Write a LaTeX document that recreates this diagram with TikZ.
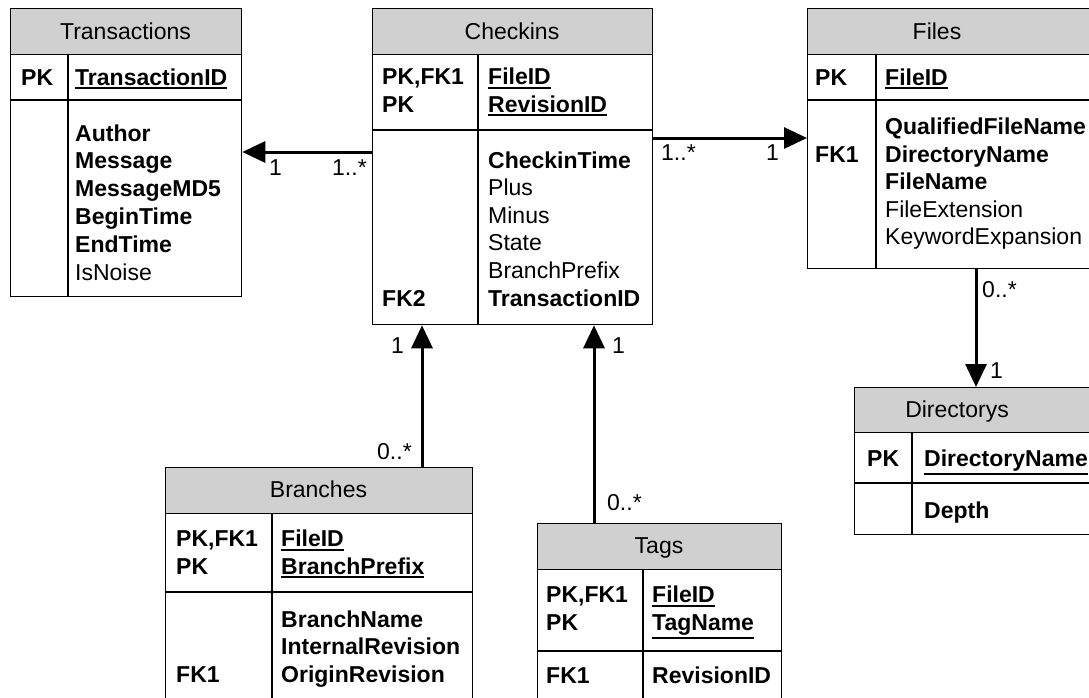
\documentclass[tikz,border=0pt]{standalone}
\usepackage{fontspec}
\setmainfont{Liberation Sans}
\usetikzlibrary{arrows.meta}
\definecolor{hdrgray}{RGB}{208,208,208}
\newcommand\ulx[1]{\setbox0=\hbox{#1}\rlap{\vrule width\wd0 height\dimexpr-\dp0-2pt\relax depth\dimexpr\dp0+3.8pt\relax}\box0}
\begin{document}
\begin{tikzpicture}[x=1pt,y=-1pt,
  font=\fontsize{23}{27.6}\selectfont,
  tbl/.style={draw, line width=1.3pt, fill=white, inner sep=0, anchor=north west},
  hdr/.style={draw, line width=1.3pt, fill=hdrgray, inner sep=0, anchor=north west, minimum height=46},
  txt/.style={anchor=base west, inner sep=0},
  ttl/.style={anchor=base, inner sep=0},
  sep/.style={line width=1.3pt},
  conn/.style={line width=3pt, -{Triangle[length=23pt,width=21pt]}},
  card/.style={anchor=base west, inner sep=0}]
\useasboundingbox (0,0) rectangle (1089,697);
\clip (0,0) rectangle (1089,697);
\fill[white] (0,0) rectangle (1089,697);

% ---------- Transactions ----------
\node[tbl, minimum width=231, minimum height=288] (trn) at (10,8) {};
\node[hdr, minimum width=231] (trn-h) at (10,8) {};
\node[ttl] (trn-t) at (125.5,39) {Transactions};
\draw[sep] (10,100) -- (241,100);
\draw[sep] (68,54) -- (68,296);
\node[txt] (trn-k1) at (21,85) {\textbf{PK}};
\node[txt] (trn-f1) at (75,85) {\ulx{\textbf{TransactionID}}};
\foreach \t [count=\i] in {\textbf{Author},\textbf{Message},\textbf{MessageMD5},\textbf{BeginTime},\textbf{EndTime},IsNoise}
  \node[txt] (trn-b\i) at (75,{141+27.8*(\i-1)}) {\t};

% ---------- Checkins ----------
\node[tbl, minimum width=280, minimum height=316] (chk) at (372,8) {};
\node[hdr, minimum width=280] (chk-h) at (372,8) {};
\node[ttl] (chk-t) at (512,39) {Checkins};
\draw[sep] (372,130) -- (652,130);
\draw[sep] (478,54) -- (478,324);
\node[txt] (chk-k1) at (382,84.5) {\textbf{PK,FK1}};
\node[txt] (chk-k2) at (382,112) {\textbf{PK}};
\node[txt] (chk-k3) at (382,306) {\textbf{FK2}};
\node[txt] (chk-f1) at (488,84.5) {\ulx{\textbf{FileID}}};
\node[txt] (chk-f2) at (488,112) {\ulx{\textbf{RevisionID}}};
\foreach \t [count=\i] in {\textbf{CheckinTime},Plus,Minus,State,BranchPrefix,\textbf{TransactionID}}
  \node[txt] (chk-b\i) at (488,{168+27.6*(\i-1)}) {\t};

% ---------- Files ----------
\node[tbl, minimum width=300, minimum height=260] (fil) at (807,8) {};
\node[hdr, minimum width=300] (fil-h) at (807,8) {};
\node[ttl] (fil-t) at (937,39) {Files};
\draw[sep] (807,100) -- (1107,100);
\draw[sep] (876,54) -- (876,268);
\node[txt] (fil-k1) at (815,85) {\textbf{PK}};
\node[txt] (fil-k2) at (815,162) {\textbf{FK1}};
\node[txt] (fil-f1) at (885,85) {\ulx{\textbf{FileID}}};
\foreach \t [count=\i] in {\textbf{QualifiedFileName},\textbf{DirectoryName},\textbf{FileName},FileExtension,KeywordExpansion}
  \node[txt] (fil-b\i) at (885,{134.5+27.5*(\i-1)}) {\t};

% ---------- Directorys ----------
\node[tbl, minimum width=260, minimum height=147] (dir) at (854,387) {};
\node[hdr, minimum width=260, minimum height=45] (dir-h) at (854,387) {};
\node[ttl] (dir-t) at (957,417) {Directorys};
\draw[sep] (854,483) -- (1114,483);
\draw[sep] (912,432) -- (912,534);
\node[txt] (dir-k1) at (867,466) {\textbf{PK}};
\node[txt] (dir-f1) at (924,466) {\ulx{\textbf{DirectoryName}}};
\node[txt] (dir-b1) at (924,518) {\textbf{Depth}};

% ---------- Branches ----------
\node[tbl, minimum width=307, minimum height=260] (brn) at (165,467) {};
\node[hdr, minimum width=307] (brn-h) at (165,467) {};
\node[ttl] (brn-t) at (318.5,497) {Branches};
\draw[sep] (165,592) -- (472,592);
\draw[sep] (272,513) -- (272,727);
\node[txt] (brn-k1) at (176,546.5) {\textbf{PK,FK1}};
\node[txt] (brn-k2) at (176,574) {\textbf{PK}};
\node[txt] (brn-k3) at (176,682) {\textbf{FK1}};
\node[txt] (brn-f1) at (281,546.5) {\ulx{\textbf{FileID}}};
\node[txt] (brn-f2) at (281,574) {\ulx{\textbf{BranchPrefix}}};
\foreach \t [count=\i] in {\textbf{BranchName},\textbf{InternalRevision},\textbf{OriginRevision}}
  \node[txt] (brn-b\i) at (281,{627+27.6*(\i-1)}) {\t};

% ---------- Tags ----------
\node[tbl, minimum width=244, minimum height=200] (tag) at (537,523) {};
\node[hdr, minimum width=244] (tag-h) at (537,523) {};
\node[ttl] (tag-t) at (659,553) {Tags};
\draw[sep] (537,651) -- (781,651);
\draw[sep] (643,569) -- (643,723);
\node[txt] (tag-k1) at (546,602.5) {\textbf{PK,FK1}};
\node[txt] (tag-k2) at (546,630) {\textbf{PK}};
\node[txt] (tag-k3) at (546,683) {\textbf{FK1}};
\node[txt] (tag-f1) at (652,602.5) {\ulx{\textbf{FileID}}};
\node[txt] (tag-f2) at (652,630) {\ulx{\textbf{TagName}}};
\node[txt] (tag-b1) at (652,683) {\textbf{RevisionID}};

% ---------- Connectors ----------
\draw[conn] (chk.west |- 0,152) -- (trn.east |- 0,152);
\draw[conn] (chk.east |- 0,138) -- (fil.west |- 0,138);
\draw[conn] (fil.south -| 976,0) -- (dir.north -| 976,0);
\draw[conn] (brn.north -| 422,0) -- (chk.south -| 422,0);
\draw[conn] (tag.north -| 594,0) -- (chk.south -| 594,0);

% ---------- Cardinalities ----------
\node[card] (c1a) at (269,175) {1};
\node[card] (c1b) at (332,175) {1..*};
\node[card] (c2a) at (661,160) {1..*};
\node[card] (c2b) at (766,160) {1};
\node[card] (c3a) at (982,297) {0..*};
\node[card] (c3b) at (990,378) {1};
\node[card] (c4a) at (391,353) {1};
\node[card] (c4b) at (377,459) {0..*};
\node[card] (c5a) at (612,353) {1};
\node[card] (c5b) at (607,510) {0..*};
\end{tikzpicture}
\end{document}
